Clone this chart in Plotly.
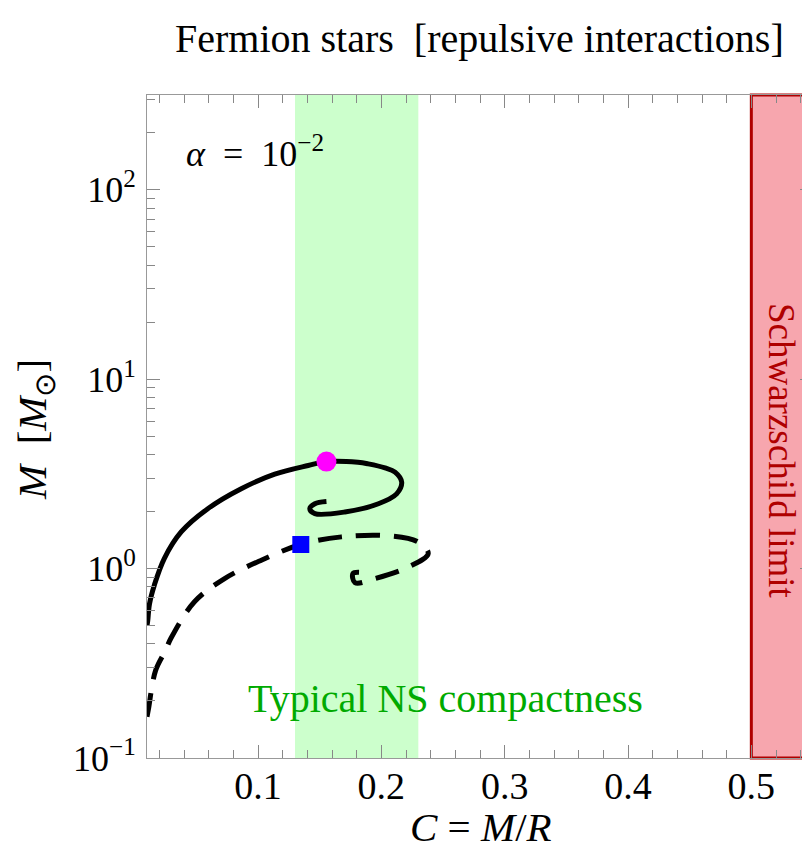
import plotly.graph_objects as go

# ---- data ----
solid_C = [0.0100, 0.0106, 0.012, 0.016, 0.024, 0.0377, 0.0593, 0.0864, 0.1136, 0.1407,
           0.1555, 0.181, 0.1894, 0.203, 0.2111, 0.2165, 0.2124, 0.1976, 0.1705, 0.1461,
           0.142, 0.1461, 0.1555]
solid_M = [0.50, 0.53, 0.65, 0.82, 1.13, 1.56, 2.07, 2.64, 3.15, 3.50,
           3.67, 3.64, 3.57, 3.40, 3.23, 2.86, 2.48, 2.20, 1.99, 1.95,
           2.07, 2.20, 2.26]

dashed_C = [0.0100, 0.0111, 0.017, 0.025, 0.0295, 0.0485, 0.0729, 0.1027, 0.1347, 0.1677,
            0.2057, 0.230, 0.238, 0.222, 0.195, 0.1786, 0.177, 0.184]
dashed_M = [0.165, 0.18, 0.29, 0.37, 0.43, 0.668, 0.886, 1.107, 1.34, 1.47,
            1.49, 1.38, 1.20, 1.02, 0.886, 0.843, 0.942, 0.953]

max_solid = (0.1555, 3.67)
max_dashed = (0.1347, 1.34)

ns_band = (0.13, 0.23)
schw_band = (0.5, 0.55)

x_ticks = [0.1, 0.2, 0.3, 0.4, 0.5]
x_ticktext = ["0.1", "0.2", "0.3", "0.4", "0.5"]
y_ticks = [0.1, 1, 10, 100]
y_ticktext = ["10<sup>\u22121</sup>", "10<sup>0</sup>", "10<sup>1</sup>", "10<sup>2</sup>"]

x_range = [0.01, 0.55]
y_range_log = [-1, 2.5]

FONT = "Liberation Serif"

x_minor = [round(0.02 * k, 2) for k in range(1, 28) if k % 5 != 0]
y_minor = [m * 10 ** e for e in (-1, 0, 1, 2) for m in range(2, 10) if m * 10 ** e < 320]

fig = go.Figure()

fig.add_trace(go.Scatter(x=solid_C, y=solid_M, mode="lines", line=dict(color="black", width=5, shape="spline"),
                         showlegend=False))
fig.add_trace(go.Scatter(x=dashed_C, y=dashed_M, mode="lines",
                         line=dict(color="black", width=5, shape="spline", dash="24px,14px"), showlegend=False))
fig.add_trace(go.Scatter(x=[max_solid[0]], y=[max_solid[1]], mode="markers",
                         marker=dict(symbol="circle", size=20, color="#FF00FF"), showlegend=False))
fig.add_trace(go.Scatter(x=[max_dashed[0]], y=[max_dashed[1]], mode="markers",
                         marker=dict(symbol="square", size=17, color="#0000FF"), showlegend=False))

fig.add_shape(type="rect", xref="x", yref="paper", x0=ns_band[0], x1=ns_band[1], y0=0, y1=1,
              fillcolor="rgb(204,255,204)", line=dict(width=0), layer="below")
fig.add_shape(type="rect", xref="x", yref="paper", x0=schw_band[0], x1=schw_band[1], y0=0, y1=1,
              fillcolor="rgb(247,166,174)", line=dict(width=3, color="rgb(175,0,0)"), layer="below")

axis_common = dict(showline=True, linecolor="#999999", linewidth=1, mirror="allticks",
                   ticks="inside", tickcolor="#888888", tickwidth=1, showgrid=False, zeroline=False,
                   automargin=False)

fig.update_xaxes(range=x_range, tickvals=x_ticks, ticktext=x_ticktext, ticklen=13,
                 tickfont=dict(family=FONT, size=38, color="black"), ticklabelstandoff=-6,
                 minor=dict(tickvals=x_minor, ticks="inside", ticklen=8, tickcolor="#888888"),
                 **axis_common)
fig.update_yaxes(type="log", range=y_range_log, tickvals=y_ticks, ticktext=y_ticktext, ticklen=13,
                 tickfont=dict(family=FONT, size=36, color="black"), ticklabelstandoff=3,
                 minor=dict(tickvals=y_minor, ticks="inside", ticklen=8, tickcolor="#888888"),
                 **axis_common)

NB = "\u00a0"
ann = []
ann.append(dict(text="Fermion stars" + NB * 2 + "[repulsive interactions]", xref="paper", yref="paper",
                x=(471 - 139) / 666, y=1 + (87 - 30) / 663, xanchor="center", yanchor="middle", showarrow=False,
                font=dict(family=FONT, size=40, color="black")))
ann.append(dict(text="<i>\u03b1</i>" + NB * 2 + "=" + NB * 2 + "10<sup>\u22122</sup>", xref="x", yref="y",
                x=0.0400, y=2.2, xanchor="left", yanchor="middle", showarrow=False,
                font=dict(family=FONT, size=36, color="black")))
ann.append(dict(text="Typical NS compactness", xref="x", yref="y",
                x=0.252, y=-0.684, xanchor="center", yanchor="middle", showarrow=False,
                font=dict(family=FONT, size=40, color="rgb(0,170,0)")))
ann.append(dict(text="Schwarzschild limit", xref="x", yref="y", textangle=90,
                x=0.525, y=0.62, xanchor="center", yanchor="middle", showarrow=False,
                font=dict(family=FONT, size=37, color="rgb(175,0,0)")))
ann.append(dict(text="<i>C</i> = <i>M</i>/<i>R</i>", xref="paper", yref="paper",
                x=(473 - 139) / 666, y=-(819 - 750) / 663, xanchor="center", yanchor="middle",
                showarrow=False, font=dict(family=FONT, size=41, color="black")))
ann.append(dict(text="<i>M</i>" + NB * 2 + "[<i>M</i><sub>\u2299</sub>]", xref="paper", yref="paper",
                x=-(139 - 27) / 666, y=(750 - 421) / 663, xanchor="center", yanchor="middle",
                textangle=-90, showarrow=False, font=dict(family=FONT, size=41, color="black")))

fig.update_layout(width=810, height=857, margin=dict(l=139, r=5, t=87, b=107),
                  plot_bgcolor="white", paper_bgcolor="white", annotations=ann)

fig.write_html("out.html")
